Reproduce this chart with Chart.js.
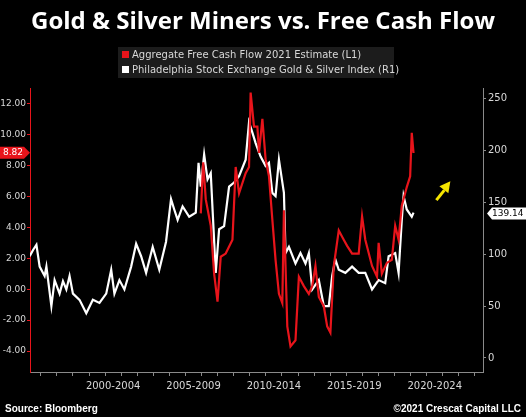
<!DOCTYPE html>
<html>
<head>
<meta charset="utf-8">
<script src="https://cdn.jsdelivr.net/npm/chart.js@4.4.0/dist/chart.umd.min.js"></script>
<style>
  html, body { margin: 0; padding: 0; background: #000; }
  #wrap { width: 526px; height: 417px; position: relative; }
</style>
</head>
<body>
<div id="wrap"><canvas id="chart"></canvas></div>
<script>
// Indice XAU (eje derecho)
const xauYears = [1997.31,1997.52,1997.73,1997.93,1998.24,1998.35,1998.66,1998.86,1999.17,1999.38,1999.59,1999.79,2000.00,2000.41,2000.83,2001.24,2001.65,2002.07,2002.38,2002.58,2002.89,2003.20,2003.62,2003.93,2004.24,2004.55,2004.96,2005.37,2005.79,2006.10,2006.30,2006.51,2006.82,2007.23,2007.64,2007.81,2007.95,2008.16,2008.37,2008.57,2008.88,2009.09,2009.40,2009.71,2010.02,2010.33,2010.74,2010.95,2011.16,2011.36,2011.67,2011.98,2012.19,2012.40,2012.60,2012.81,2013.12,2013.22,2013.43,2013.84,2014.15,2014.46,2014.67,2014.88,2015.29,2015.60,2015.91,2016.12,2016.32,2016.53,2016.94,2017.36,2017.77,2018.18,2018.60,2019.01,2019.42,2019.63,2020.04,2020.25,2020.45,2020.56,2020.76,2021.07,2021.18];
const xauValues = [98,104,109,88,79,88,50,75,62,74,66,79,62,56,43,56,53,62,85,62,75,66,88,110,98,82,107,85,112,153,143,133,146,136,140,188,165,196,172,178,82,124,127,165,169,175,191,227,217,207,194,185,188,159,156,191,159,101,107,91,101,91,101,66,75,50,50,79,95,85,82,88,82,82,66,75,72,98,101,82,133,156,143,136,140];

// Flujo de caja libre agregado (eje izquierdo)
const fcfYears = [2007.95,2008.10,2008.26,2008.57,2008.78,2008.99,2009.19,2009.50,2009.92,2010.12,2010.33,2010.74,2010.95,2011.05,2011.26,2011.47,2011.57,2011.78,2011.98,2012.19,2012.40,2012.60,2012.81,2013.02,2013.12,2013.33,2013.53,2013.84,2014.05,2014.36,2014.67,2014.88,2015.08,2015.29,2015.60,2015.81,2016.01,2016.22,2016.53,2016.84,2017.05,2017.36,2017.77,2017.98,2018.18,2018.60,2018.91,2019.01,2019.21,2019.52,2019.83,2020.04,2020.25,2020.45,2020.76,2020.97,2021.07,2021.18];
const fcfValues = [4.9,8.2,5.8,4.1,1.0,-0.8,2.1,2.3,3.2,7.9,6.2,7.5,7.9,12.7,10.5,10.5,8.8,11.0,8.4,7.3,4.5,1.9,-0.3,-0.9,5.1,-2.4,-3.7,-3.3,0.8,0.2,-0.3,0.2,1.5,-0.5,-1.1,-2.4,-2.8,1.5,3.8,3.2,2.8,2.3,2.3,4.7,3.2,1.5,0.8,3.0,1.0,1.7,1.9,4.1,3.2,5.4,6.6,7.3,10.1,8.8];

const periodLabels = ['2000-2004', '2005-2009', '2010-2014', '2015-2019', '2020-2024'];
const leftTicks = [12, 10, 8, 6, 4, 2, 0, -2, -4];
const rightTicks = [250, 200, 150, 100, 50, 0];
const lastFcf = '8.82';
const lastXau = '139.14';

const COLORS = {
  RED: '#e8141b',
  WHITE: '#ffffff',
  AXIS: '#8a8a8a',
  TEXT: '#d8d8d8',
  LEGEND_BG: '#1c1c1c',
  ARROW: '#f5e400'
};

const toPoints = (xs, ys) => xs.map((x, i) => ({ x: x, y: ys[i] }));

const decorPlugin = {
  id: 'decor',
  afterDraw(chart) {
    const ctx = chart.ctx;
    const area = chart.chartArea;
    const yL = chart.scales.yL, yR = chart.scales.yR, x = chart.scales.x;
    ctx.save();
    // titulo
    ctx.fillStyle = COLORS.WHITE;
    ctx.font = 'bold 24px "Open Sans", sans-serif';
    ctx.textAlign = 'center';
    ctx.textBaseline = 'middle';
    ctx.fillText('Gold & Silver Miners vs. Free Cash Flow', 263, 22);

    // leyenda
    ctx.fillStyle = COLORS.LEGEND_BG;
    ctx.fillRect(118, 47, 276, 31);
    ctx.font = '10px "DejaVu Sans", sans-serif';
    ctx.textAlign = 'left';
    ctx.fillStyle = COLORS.RED;
    ctx.fillRect(122, 51, 7, 7);
    ctx.fillStyle = COLORS.TEXT;
    ctx.fillText('Aggregate Free Cash Flow 2021 Estimate (L1)', 132, 55);
    ctx.fillStyle = COLORS.WHITE;
    ctx.fillRect(122, 66, 7, 7);
    ctx.fillStyle = COLORS.TEXT;
    ctx.fillText('Philadelphia Stock Exchange Gold & Silver Index (R1)', 132, 70);

    // etiqueta ultimo valor izquierda
    let yy = yL.getPixelForValue(8.82);
    ctx.fillStyle = COLORS.RED;
    ctx.beginPath();
    ctx.moveTo(0, yy - 6); ctx.lineTo(24, yy - 6); ctx.lineTo(30, yy);
    ctx.lineTo(24, yy + 6); ctx.lineTo(0, yy + 6); ctx.closePath(); ctx.fill();
    ctx.fillStyle = COLORS.WHITE;
    ctx.font = '9px "DejaVu Sans", sans-serif';
    ctx.fillText(lastFcf, 3, yy);

    // etiqueta ultimo valor derecha
    yy = yR.getPixelForValue(139.14);
    ctx.fillStyle = COLORS.WHITE;
    ctx.beginPath();
    ctx.moveTo(area.right + 4, yy); ctx.lineTo(area.right + 9, yy - 6); ctx.lineTo(526, yy - 6);
    ctx.lineTo(526, yy + 6); ctx.lineTo(area.right + 9, yy + 6); ctx.closePath(); ctx.fill();
    ctx.fillStyle = '#000';
    ctx.fillText(lastXau, area.right + 9, yy);

    // flecha amarilla
    const ax = x.getPixelForValue(2022.6), ay = yR.getPixelForValue(152);
    ctx.strokeStyle = COLORS.ARROW;
    ctx.fillStyle = COLORS.ARROW;
    ctx.lineWidth = 3;
    ctx.beginPath(); ctx.moveTo(ax, ay); ctx.lineTo(ax + 8, ay - 10); ctx.stroke();
    ctx.beginPath(); ctx.moveTo(ax + 14, ay - 19); ctx.lineTo(ax + 3, ay - 14); ctx.lineTo(ax + 12, ay - 7); ctx.closePath(); ctx.fill();

    // pie
    ctx.fillStyle = COLORS.WHITE;
    ctx.font = 'bold 10px "Liberation Sans", sans-serif';
    ctx.fillText('Source: Bloomberg', 5, 409);
    ctx.textAlign = 'right';
    ctx.fillText('\u00a92021 Crescat Capital LLC', 521, 409);
    ctx.restore();
  }
};

new Chart(document.getElementById('chart'), {
  type: 'line',
  data: {
    datasets: [
      { label: 'Aggregate Free Cash Flow 2021 Estimate (L1)', data: toPoints(fcfYears, fcfValues),
        yAxisID: 'yL', borderColor: COLORS.RED, borderWidth: 2.2, pointRadius: 0, tension: 0 },
      { label: 'Philadelphia Stock Exchange Gold & Silver Index (R1)', data: toPoints(xauYears, xauValues),
        yAxisID: 'yR', borderColor: COLORS.WHITE, borderWidth: 2.2, pointRadius: 0, tension: 0 }
    ]
  },
  options: {
    responsive: true,
    maintainAspectRatio: false,
    animation: false,
    layout: { padding: { top: 88, bottom: 17, left: 0, right: 0 } },
    plugins: { legend: { display: false }, tooltip: { enabled: false } },
    scales: {
      x: {
        type: 'linear', min: 1997.33, max: 2025.5,
        afterBuildTicks: s => { s.ticks = []; for (let v = 1998; v <= 2025; v += 0.5) s.ticks.push({ value: v }); },
        afterFit: s => { s.height = 28; },
        grid: {
          drawOnChartArea: false,
          color: c => (Number.isInteger(c.tick.value) ? COLORS.AXIS : 'rgba(0,0,0,0)'),
          tickLength: c => (c.tick && c.tick.value % 5 === 0 ? 28 : 4)
        },
        border: { color: COLORS.AXIS },
        ticks: {
          autoSkip: false, maxRotation: 0, color: COLORS.TEXT, padding: 4,
          font: { size: 10, family: 'DejaVu Sans' },
          callback: v => { const k = (v - 2002.5) / 5; return Number.isInteger(k) && k >= 0 && k < periodLabels.length ? periodLabels[k] : ''; }
        }
      },
      yL: {
        position: 'left', min: -5.35, max: 13.0,
        afterBuildTicks: s => { s.ticks = leftTicks.map(v => ({ value: v })); },
        afterFit: s => { s.width = 30; },
        grid: { drawOnChartArea: false, color: COLORS.RED, tickLength: 3 },
        border: { color: COLORS.RED },
        ticks: { color: COLORS.TEXT, padding: 1, font: { size: 9, family: 'DejaVu Sans' }, callback: v => v.toFixed(2) }
      },
      yR: {
        position: 'right', min: -13.5, max: 260,
        afterBuildTicks: s => { s.ticks = rightTicks.map(v => ({ value: v })); },
        afterFit: s => { s.width = 43; },
        grid: { drawOnChartArea: false, color: COLORS.AXIS, tickLength: 3 },
        border: { color: COLORS.AXIS },
        ticks: { color: COLORS.TEXT, padding: 2, font: { size: 10, family: 'DejaVu Sans' } }
      }
    }
  },
  plugins: [decorPlugin]
});
</script>
</body>
</html>
